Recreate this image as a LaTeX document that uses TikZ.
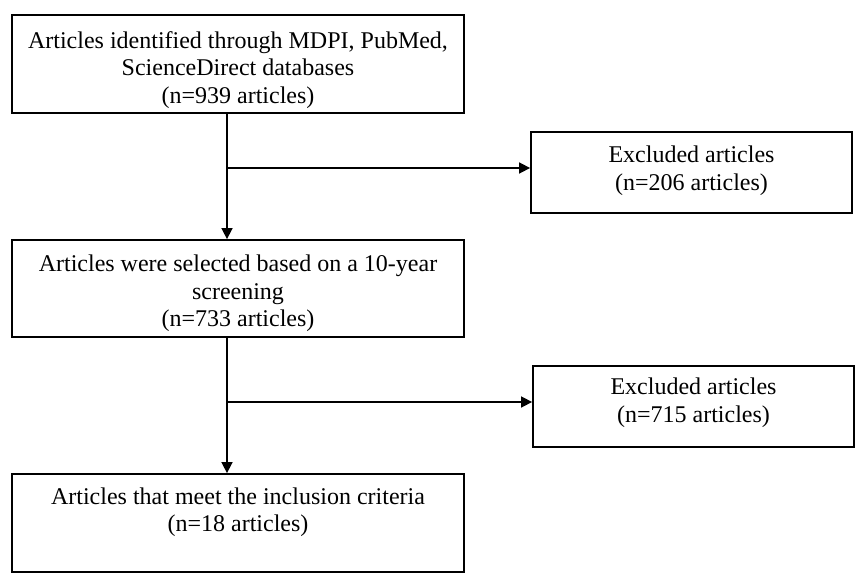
\documentclass[tikz,border=0pt]{standalone}
\usepackage{fontspec}
\setmainfont{Liberation Serif}
\usetikzlibrary{arrows.meta,calc}
\begin{document}
\begin{tikzpicture}[x=1pt,y=-1pt,
  box/.style={draw,line width=1.8pt,inner sep=0pt},
  txt/.style={align=center,inner sep=0pt,font=\fontsize{24}{27.5}\selectfont},
  arr/.style={line width=1.6pt,-{Triangle[length=11pt,width=11pt]}}]
\useasboundingbox (0,0) rectangle (867,583);
\node[box,minimum width=452pt,minimum height=98pt] (a) at (238,64) {};
\node[txt] (ta) at ($(a.center)+(0,6)$)
  {Articles identified through MDPI, PubMed,\\ScienceDirect databases\\(n=939 articles)};
\node[box,minimum width=321pt,minimum height=81pt] (e1) at (691.5,172.5) {};
\node[txt] (te1) at ($(e1.center)+(0,-2)$) {Excluded articles\\(n=206 articles)};
\node[box,minimum width=452pt,minimum height=97pt] (b) at (238,288.5) {};
\node[txt] (tb) at ($(b.center)+(0,5)$)
  {Articles were selected based on a 10-year\\screening\\(n=733 articles)};
\node[box,minimum width=321pt,minimum height=81pt] (e2) at (693.5,406.5) {};
\node[txt] (te2) at ($(e2.center)+(0,-4)$) {Excluded articles\\(n=715 articles)};
\node[box,minimum width=452pt,minimum height=98pt] (c) at (238,523) {};
\node[txt] (tc) at ($(c.center)+(0,-11)$)
  {Articles that meet the inclusion criteria\\(n=18 articles)};
\coordinate (v) at (227,0);
\coordinate (j1) at (227,168);
\coordinate (j2) at (227,402);
\draw[arr] (a.south -| v) -- (b.north -| v);
\draw[arr] (b.south -| v) -- (c.north -| v);
\draw[arr] (j1) -- (e1.west |- j1);
\draw[arr] (j2) -- (e2.west |- j2);
\end{tikzpicture}
\end{document}
